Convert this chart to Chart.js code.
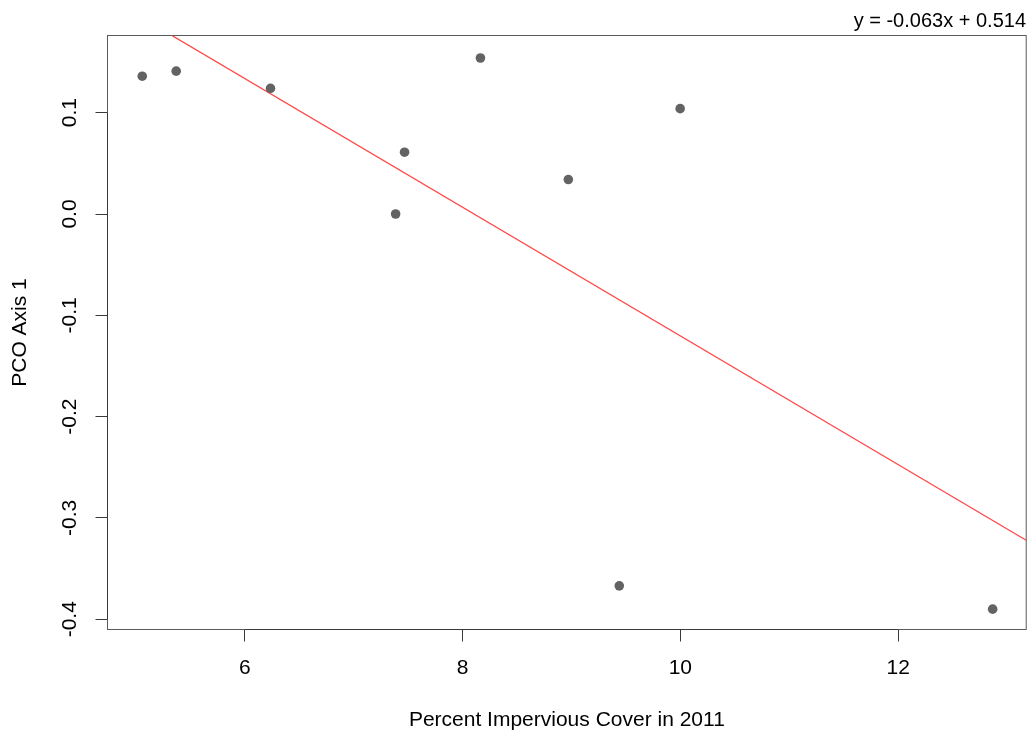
<!DOCTYPE html>
<html>
<head>
<meta charset="utf-8">
<title>PCO Axis 1 vs Percent Impervious Cover</title>
<script src="https://cdn.jsdelivr.net/npm/chart.js@4/dist/chart.umd.min.js"></script>
<style>
    body { margin: 0; background: #fff; }
    #chart { display: block; }
</style>
</head>
<body>
<canvas id="chart" width="1031" height="733"></canvas>
<script>
// Data
const imperviousCover = [5.058, 5.370, 6.236, 7.385, 7.467, 8.164, 8.971, 9.439, 9.998, 12.868];
const pcoAxis1 = [0.136, 0.141, 0.124, 0.000, 0.061, 0.154, 0.034, -0.367, 0.104, -0.390];
const xTicks = [6, 8, 10, 12];
const yTicks = [-0.4, -0.3, -0.2, -0.1, 0.0, 0.1];
const yTickLabels = ['-0.4', '-0.3', '-0.2', '-0.1', '0.0', '0.1'];
const fitSlope = -0.0635;
const fitIntercept = 0.5147;
const equationText = 'y = -0.063x + 0.514';

const X_MIN = 4.739, X_MAX = 13.176;
const Y_MIN = -0.4101, Y_MAX = 0.1762;
const FONT = 'Liberation Sans, Arial, Helvetica, sans-serif';
const BOX_COLOR = '#5a5a5a';
const AXIS_COLOR = '#3a3a3a';

const points = imperviousCover.map((x, i) => ({ x: x, y: pcoAxis1[i] }));
const fitLine = [X_MIN, X_MAX].map(x => ({ x: x, y: fitSlope * x + fitIntercept }));

// Box, axis lines, rotated y labels and the equation, R style
const rStylePlugin = {
    id: 'rStyle',
    beforeDatasetsDraw(chart) {
        const ctx = chart.ctx;
        const a = chart.chartArea;
        const xs = chart.scales.x, ys = chart.scales.y;
        ctx.save();
        ctx.strokeStyle = BOX_COLOR;
        ctx.lineWidth = 1;
        ctx.strokeRect(a.left, a.top, a.right - a.left, a.bottom - a.top);
        // axis() lines run from first to last tick
        ctx.strokeStyle = AXIS_COLOR;
        ctx.beginPath();
        ctx.moveTo(xs.getPixelForValue(xTicks[0]), a.bottom);
        ctx.lineTo(xs.getPixelForValue(xTicks[xTicks.length - 1]), a.bottom);
        ctx.moveTo(a.left, ys.getPixelForValue(yTicks[0]));
        ctx.lineTo(a.left, ys.getPixelForValue(yTicks[yTicks.length - 1]));
        ctx.stroke();
        ctx.restore();
    },
    afterDraw(chart) {
        const ctx = chart.ctx;
        const yScale = chart.scales.y;
        ctx.save();
        ctx.fillStyle = '#000';
        ctx.font = '21px ' + FONT;
        ctx.textAlign = 'center';
        ctx.textBaseline = 'middle';
        yTicks.forEach((v, i) => {
            ctx.save();
            ctx.translate(70, yScale.getPixelForValue(v));
            ctx.rotate(-Math.PI / 2);
            ctx.fillText(yTickLabels[i], 0, 0);
            ctx.restore();
        });
        ctx.font = '20px ' + FONT;
        ctx.textAlign = 'right';
        ctx.fillText(equationText, 1026, 21);
        ctx.restore();
    }
};

new Chart(document.getElementById('chart'), {
    type: 'scatter',
    data: {
        datasets: [{
            label: 'Sites',
            data: points,
            backgroundColor: '#636363',
            borderColor: '#636363',
            pointRadius: 4.8,
            pointBorderWidth: 0
        }, {
            type: 'line',
            label: 'Fit',
            data: fitLine,
            borderColor: 'rgb(255, 70, 70)',
            borderWidth: 1.3,
            pointRadius: 0,
            fill: false
        }]
    },
    options: {
        responsive: false,
        animation: false,
        layout: { padding: { top: 35.5, right: 3.5, left: 0, bottom: 0 } },
        plugins: {
            legend: { display: false },
            tooltip: { enabled: false }
        },
        scales: {
            x: {
                type: 'linear',
                min: X_MIN,
                max: X_MAX,
                afterBuildTicks: scale => { scale.ticks = xTicks.map(v => ({ value: v })); },
                afterFit: scale => { scale.height = 103.5; },
                grid: { drawOnChartArea: false, drawTicks: true, tickLength: 12, color: AXIS_COLOR },
                border: { display: false },
                ticks: {
                    color: '#000',
                    padding: 14,
                    font: { family: FONT, size: 21 },
                    maxRotation: 0
                },
                title: {
                    display: true,
                    text: 'Percent Impervious Cover in 2011',
                    color: '#000',
                    font: { family: FONT, size: 21 },
                    padding: { top: 0, bottom: 0.4 }
                }
            },
            y: {
                type: 'linear',
                min: Y_MIN,
                max: Y_MAX,
                afterBuildTicks: scale => { scale.ticks = yTicks.map(v => ({ value: v })); },
                afterFit: scale => { scale.width = 107.5; },
                grid: { drawOnChartArea: false, drawTicks: true, tickLength: 12, color: AXIS_COLOR },
                border: { display: false },
                ticks: { display: false },
                title: {
                    display: true,
                    text: 'PCO Axis 1',
                    color: '#000',
                    font: { family: FONT, size: 21 },
                    padding: { top: 7.4, bottom: 0 }
                }
            }
        }
    },
    plugins: [rStylePlugin]
});
</script>
</body>
</html>
